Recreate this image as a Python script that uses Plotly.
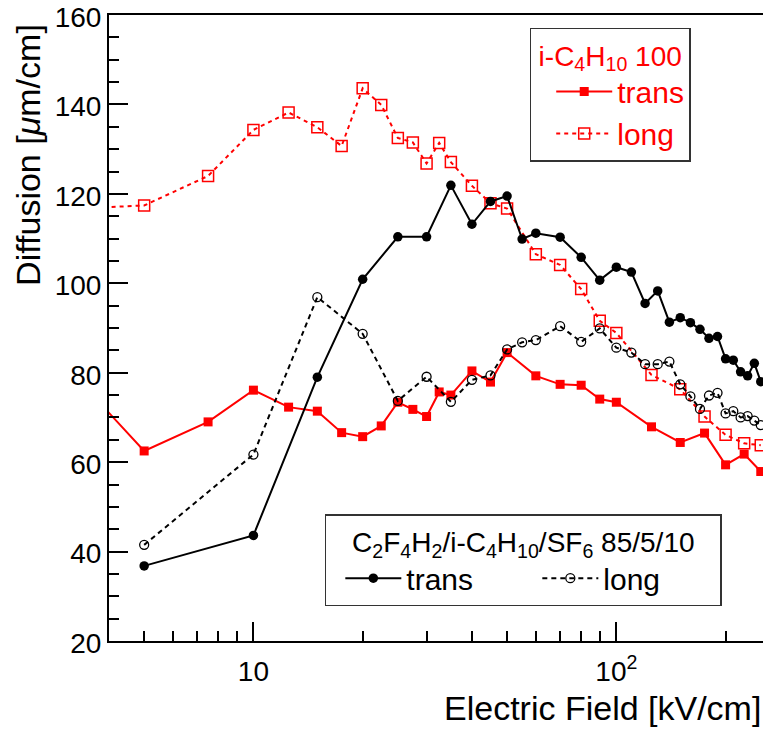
import plotly.graph_objects as go
import numpy as np

# ---- data ----
# i-C4H10 100
iso_E_long = [3, 5, 7.5, 10, 12.5, 15, 17.5, 20, 22.5, 25, 27.5, 30, 32.5, 35, 40, 45, 50,
              60, 70, 80, 90, 100, 125, 150, 175, 200, 225, 250]
iso_long = [116.6, 117.4, 124.0, 134.3, 138.2, 134.9, 130.7, 143.6, 139.9, 132.5, 131.5, 126.8,
            131.4, 127.1, 121.8, 117.9, 116.7, 106.5, 104.1, 98.7, 91.6, 88.9, 79.5, 76.3,
            70.2, 66.1, 64.2, 63.8]
iso_E_trans = iso_E_long
iso_trans = [82.0, 62.5, 69.0, 76.1, 72.3, 71.4, 66.6, 65.7, 68.1, 73.4, 71.8, 70.2,
             75.7, 75.0, 80.4, 77.9, 84.5, 79.3, 77.4, 77.2, 74.1, 73.4, 67.9, 64.4,
             66.5, 59.4, 61.8, 57.9]

# C2F4H2/i-C4H10/SF6 85/5/10
mix_E = [5, 10, 15, 20, 25, 30, 35, 40, 45, 50, 55, 60, 70, 80, 90, 100, 110, 120, 130,
         140, 150, 160, 170, 180, 190, 200, 210, 220, 230, 240, 250]
mix_trans = [36.8, 43.6, 79.0, 100.9, 110.4, 110.4, 121.9, 113.2, 118.3, 119.5, 109.9,
             111.2, 110.3, 105.8, 100.7, 103.6, 102.5, 95.5, 98.3, 91.3, 92.3, 91.2, 89.7,
             87.7, 88.1, 83.1, 82.8, 80.2, 79.3, 82.1, 78.0]
mix_long = [41.5, 61.7, 96.9, 88.7, 73.7, 79.1, 73.5, 78.4, 79.4, 85.2, 86.8, 87.3, 90.4,
            86.9, 89.9, 85.6, 84.5, 81.9, 81.9, 82.5, 77.4, 74.7, 71.9, 74.9, 75.5, 70.9,
            71.4, 70.0, 70.3, 69.3, 68.3]

x_tickvals = [10, 100]
x_ticktext = ["10", "10<sup>2</sup>"]
x_minor = [5, 6, 7, 8, 9, 20, 30, 40, 50, 60, 70, 80, 90, 200]

FONT = "Liberation Sans, Arial, Helvetica, sans-serif"
RED = "#ff0000"

fig = go.Figure()

fig.add_trace(go.Scatter(x=iso_E_trans, y=iso_trans, mode="lines+markers", name="trans",
                         line=dict(color=RED, width=2),
                         marker=dict(symbol="square", size=9, color=RED),
                         legend="legend"))
fig.add_trace(go.Scatter(x=iso_E_long, y=iso_long, mode="lines+markers", name="long",
                         line=dict(color=RED, width=2, dash="4px,4px"),
                         marker=dict(symbol="square-open", size=11, color=RED,
                                     line=dict(width=1.5, color=RED)),
                         legend="legend"))
fig.add_trace(go.Scatter(x=mix_E, y=mix_trans, mode="lines+markers", name="trans",
                         line=dict(color="black", width=2),
                         marker=dict(symbol="circle", size=9.5, color="black"),
                         legend="legend2"))
fig.add_trace(go.Scatter(x=mix_E, y=mix_long, mode="lines+markers", name="long",
                         line=dict(color="black", width=2, dash="5px,4px"),
                         marker=dict(symbol="circle-open", size=9, color="black",
                                     line=dict(width=1.3, color="black")),
                         legend="legend2"))

fig.update_layout(
    width=763, height=731,
    margin=dict(l=109, r=0, t=15, b=90),
    paper_bgcolor="white", plot_bgcolor="white",
    font=dict(family=FONT, size=28, color="black"),
    xaxis=dict(type="log", range=[np.log10(4.0), 2.4041], automargin=False,
               showgrid=False, zeroline=False, ticklabeloverflow="allow",
               showline=True, linecolor="black", linewidth=2, mirror=True,
               ticks="inside", ticklen=19, tickwidth=1.5, tickcolor="black",
               tickvals=x_tickvals, ticktext=x_ticktext,
               tickfont=dict(size=28, family=FONT), ticklabelstandoff=4,
               minor=dict(ticks="inside", ticklen=10, tickwidth=1.5, tickcolor="black",
                          tickvals=x_minor, showgrid=False)),
    yaxis=dict(range=[20, 160], automargin=False, showgrid=False, zeroline=False,
               ticklabeloverflow="allow", ticklabelshift=2,
               showline=True, linecolor="black", linewidth=2,
               ticks="inside", ticklen=19, tickwidth=1.5, tickcolor="black",
               dtick=20, tick0=0,
               tickfont=dict(size=28, family=FONT),
               minor=dict(ticks="inside", ticklen=10, tickwidth=1.5, tickcolor="black",
                          dtick=5, showgrid=False)),
    legend=dict(x=0.6433, y=0.9797, xanchor="left", yanchor="top",
                bgcolor="white", bordercolor="#333333", borderwidth=1.5,
                font=dict(size=30, color=RED, family=FONT),
                title=dict(text="i-C<sub>4</sub>H<sub>10</sub> 100", side="top center",
                           font=dict(size=28, color=RED, family=FONT)),
                orientation="v", tracegroupgap=0, itemwidth=56, indentation=20),
    legend2=dict(x=0.330, y=0.2024, xanchor="left", yanchor="top",
                 bgcolor="white", bordercolor="#333333", borderwidth=1.5,
                 font=dict(size=30, color="black", family=FONT),
                 title=dict(text="C<sub>2</sub>F<sub>4</sub>H<sub>2</sub>/i-C<sub>4</sub>H<sub>10</sub>/SF<sub>6</sub> 85/5/10",
                            side="top center", font=dict(size=28, color="black", family=FONT)),
                 orientation="h", entrywidth=112, itemwidth=56, indentation=14),
    showlegend=True,
    annotations=[
        dict(text="Electric Field [kV/cm]", xref="paper", yref="paper", x=1.0, y=-0.107,
             xanchor="right", yanchor="middle", showarrow=False,
             font=dict(size=34, family=FONT, color="black")),
        dict(text="Diffusion [<i>μ</i>m/cm]", xref="paper", yref="paper", x=-0.124, y=0.9888,
             xanchor="center", yanchor="top", textangle=-90, showarrow=False,
             font=dict(size=34, family=FONT, color="black")),
    ],
)

# remove the browser's default 8px body margin so the figure fills the window exactly
fig.write_html("out.html", config={"displayModeBar": False},
               post_script="document.body.style.margin='0px';document.body.style.overflow='hidden';")
